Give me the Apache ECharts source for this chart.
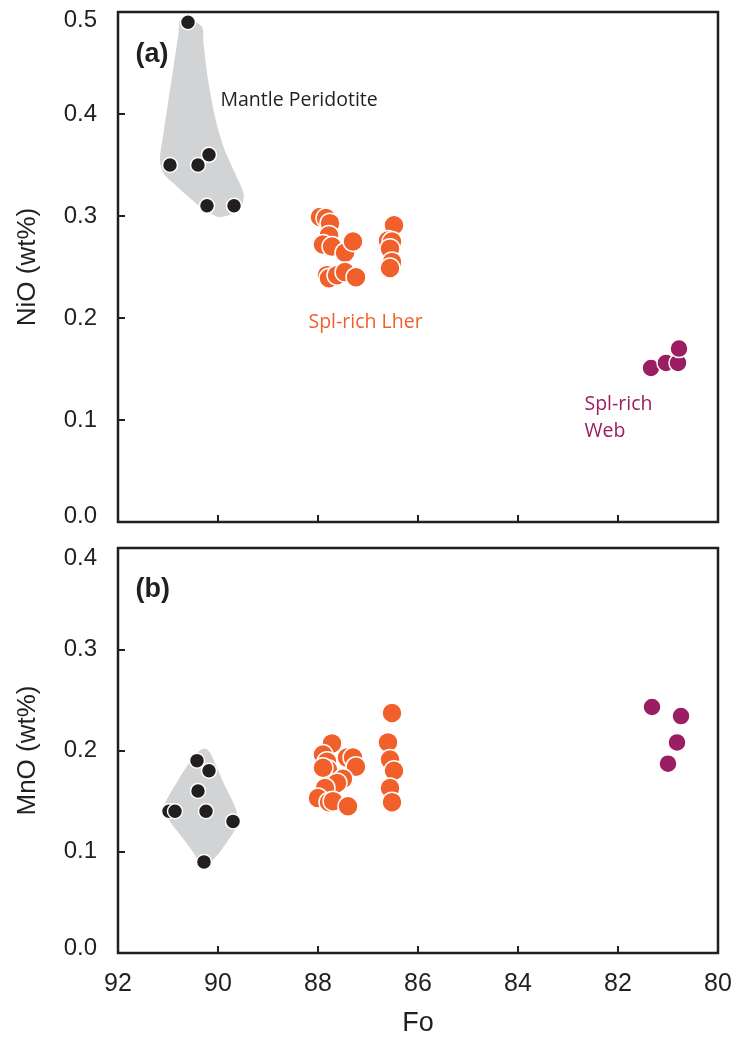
<!DOCTYPE html>
<html><head><meta charset="utf-8">
<script src="https://cdn.jsdelivr.net/npm/echarts@6/dist/echarts.min.js"></script>
<style>html,body{margin:0;padding:0;background:#fff}#c{width:737px;height:1041px}</style>
</head><body><div id="c"></div><script>
// ---- Panel (a): NiO vs Fo ----
const mantleNiO = [[90.6,0.49],[90.96,0.35],[90.4,0.35],[90.18,0.36],[90.22,0.31],[89.68,0.31]];
const lherNiO = [[87.96,0.299],[87.84,0.298],[87.76,0.293],[87.78,0.281],[87.9,0.272],[87.72,0.27],[87.46,0.264],[87.3,0.275],
  [87.82,0.242],[87.78,0.239],[87.62,0.242],[87.46,0.245],[87.24,0.240],
  [86.48,0.291],[86.6,0.276],[86.52,0.275],[86.56,0.268],[86.52,0.255],[86.56,0.249]];
const webNiO = [[81.34,0.151],[81.04,0.156],[80.8,0.156],[80.78,0.170]];
const mantleFieldNiO = [[90.73,0.495],[90.33,0.486],[90.29,0.469],[90.21,0.437],[90.06,0.397],[89.89,0.368],[89.66,0.342],
  [89.49,0.322],[89.53,0.309],[89.69,0.303],[89.96,0.299],[90.16,0.303],[90.43,0.312],[90.89,0.332],[91.09,0.342],
  [91.16,0.355],[91.09,0.381],[90.99,0.414],[90.89,0.446],[90.79,0.479]];
// ---- Panel (b): MnO vs Fo ----
const mantleMnO = [[90.42,0.19],[90.18,0.18],[90.4,0.16],[90.98,0.14],[90.86,0.14],[90.24,0.14],[89.7,0.13],[90.28,0.09]];
const lherMnO = [[87.72,0.207],[87.9,0.196],[87.82,0.189],[87.42,0.193],[87.3,0.193],[87.24,0.184],[87.8,0.181],[87.9,0.183],
  [87.5,0.172],[87.62,0.168],[87.86,0.163],[88.0,0.153],[87.78,0.149],[87.7,0.150],[87.4,0.145],
  [86.52,0.237],[86.6,0.208],[86.56,0.191],[86.48,0.18],[86.56,0.163],[86.52,0.149]];
const webMnO = [[81.32,0.243],[80.74,0.234],[80.82,0.208],[81.0,0.187]];
const mantleFieldMnO = [[90.39,0.199],[90.26,0.202],[90.16,0.198],[90.03,0.184],[89.86,0.165],[89.69,0.148],[89.61,0.135],
  [89.66,0.122],[89.83,0.109],[90.06,0.094],[90.23,0.087],[90.36,0.089],[90.49,0.099],[90.73,0.115],[90.96,0.130],
  [91.09,0.142],[91.03,0.151],[90.83,0.168],[90.63,0.184],[90.49,0.194]];
// ---- Axis settings / tick labels ----
const foRange = [80, 92];
const niORange = [0, 0.5];
const mnORange = [0, 0.4];
// ---- Annotations: [text, Fo, value] ----
const annotA = [["(a)", 91.66, 0.458], ["Mantle Peridotite", 89.96, 0.413], ["Spl-rich Lher", 88.2, 0.196], ["Spl-rich\nWeb", 82.68, 0.102]];
const annotB = [["(b)", 91.66, 0.359]];

const INK = '#231f20', ORANGE = '#f15f2a', PURPLE = '#9b1d62', GRAY = '#d1d3d4';
const chart = echarts.init(document.getElementById('c'), null, {renderer:'canvas'});

const LF = 24;
function yLabel(maxV, padTop, padBot){
  return {
    fontSize: LF, color: INK, fontFamily: 'Liberation Sans', margin: 21,
    formatter: function(v){
      const s = v.toFixed(1);
      if (Math.abs(v - maxV) < 1e-9) return '{t|' + s + '}';
      if (Math.abs(v) < 1e-9) return '{b|' + s + '}';
      return s;
    },
    rich: {
      t: {fontSize: LF, color: INK, fontFamily: 'Liberation Sans', padding: [padTop,0,0,0]},
      b: {fontSize: LF, color: INK, fontFamily: 'Liberation Sans', padding: [0,0,padBot,0]}
    }
  };
}
const tick = {show:true, inside:true, length:7, lineStyle:{color:INK, width:2}};

function polyRender(pts){
  return function(params, api){
    return {type:'polygon', shape:{points: pts.map(p => api.coord(p)), smooth:0.3}, style:{fill:GRAY}};
  };
}
function dots(data, xi, color, size){
  return {type:'scatter', xAxisIndex:xi, yAxisIndex:xi, data:data, symbolSize:size, z:3,
    itemStyle:{color:color, opacity:1, borderColor:'#fff', borderWidth:1.5}, emphasis:{disabled:true}, silent:true};
}
function annots(list, xi){
  const colors = {"Mantle Peridotite":INK, "Spl-rich Lher":ORANGE, "Spl-rich\nWeb":PURPLE};
  return {type:'scatter', xAxisIndex:xi, yAxisIndex:xi, symbolSize:1, silent:true, z:5,
    itemStyle:{color:'rgba(0,0,0,0)'},
    data: list.map(a => {
      const bold = a[0].startsWith('(');
      return {value:[a[1], a[2]], label:{show:true, position:'right', distance:0, formatter:a[0],
        color: colors[a[0]] || INK, fontSize: bold ? 27 : 19.5, fontWeight: bold ? 'bold' : 'normal',
        fontFamily: bold ? 'Liberation Sans' : 'Open Sans', lineHeight: 27, align:'left',
        textBorderWidth:0, opacity:1}};
    })};
}

chart.setOption({
  animation:false,
  backgroundColor:'#fff',
  grid:[
    {left:118, top:12, width:600, height:510, show:true, borderColor:INK, borderWidth:2.5, backgroundColor:'transparent', outerBoundsMode:'none'},
    {left:118, top:548, width:600, height:405, show:true, borderColor:INK, borderWidth:2.5, backgroundColor:'transparent', outerBoundsMode:'none'}
  ],
  xAxis:[
    {type:'value', gridIndex:0, min:foRange[0], max:foRange[1], interval:2, inverse:true,
      axisLine:{show:false}, axisTick:tick, axisLabel:{show:false}, splitLine:{show:false}},
    {type:'value', gridIndex:1, min:foRange[0], max:foRange[1], interval:2, inverse:true,
      axisLine:{show:false}, axisTick:tick, splitLine:{show:false},
      axisLabel:{fontSize:25, color:INK, fontFamily:'Liberation Sans', margin:19},
      name:'Fo', nameLocation:'middle', nameGap:57, nameTextStyle:{fontSize:27, color:INK, fontFamily:'Liberation Sans'}}
  ],
  yAxis:[
    {type:'value', gridIndex:0, min:niORange[0], max:niORange[1], interval:0.1,
      axisLine:{show:false}, axisTick:tick, splitLine:{show:false}, axisLabel:yLabel(niORange[1], 16, 12),
      name:'NiO (wt%)', nameLocation:'middle', nameGap:77, nameRotate:90,
      nameTextStyle:{fontSize:26, color:INK, fontFamily:'Liberation Sans'}},
    {type:'value', gridIndex:1, min:mnORange[0], max:mnORange[1], interval:0.1,
      axisLine:{show:false}, axisTick:tick, splitLine:{show:false}, axisLabel:yLabel(mnORange[1], 20, 10),
      name:'MnO (wt%)', nameLocation:'middle', nameGap:77, nameRotate:90,
      nameTextStyle:{fontSize:26, color:INK, fontFamily:'Liberation Sans'}}
  ],
  series:[
    {type:'custom', xAxisIndex:0, yAxisIndex:0, data:[[86,0.25]], renderItem:polyRender(mantleFieldNiO), z:1, silent:true},
    {type:'custom', xAxisIndex:1, yAxisIndex:1, data:[[86,0.2]], renderItem:polyRender(mantleFieldMnO), z:1, silent:true},
    dots(mantleNiO, 0, INK, 15),
    dots(lherNiO, 0, ORANGE, 20),
    dots(webNiO, 0, PURPLE, 18),
    dots(mantleMnO, 1, INK, 15),
    dots(lherMnO, 1, ORANGE, 20),
    dots(webMnO, 1, PURPLE, 18),
    annots(annotA, 0),
    annots(annotB, 1)
  ]
});
</script></body></html>
